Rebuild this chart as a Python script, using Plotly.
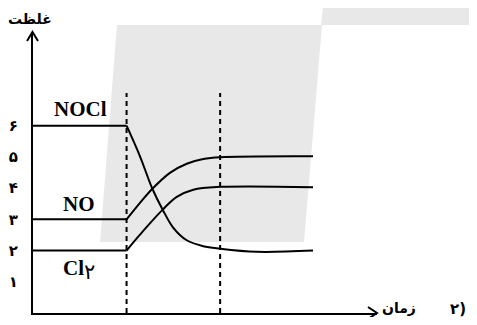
import plotly.graph_objects as go

# concentrations vs time (arbitrary units)
t_start = [0, 2.72]
t_event = [2.72, 5.44]

nocl_t = [2.72, 3.11, 3.47, 3.77, 4.08, 4.47, 4.95, 5.44, 6.5, 8.14]
nocl_c = [6.0, 5.02, 3.98, 3.31, 2.73, 2.33, 2.14, 2.06, 1.96, 2.0]

no_t = [2.72, 3.11, 3.47, 3.98, 4.47, 4.95, 5.44, 8.14]
no_c = [3.0, 3.53, 3.98, 4.49, 4.78, 4.93, 4.99, 5.02]

cl2_t = [2.72, 3.11, 3.77, 4.18, 4.66, 5.44, 8.14]
cl2_c = [2.0, 2.51, 3.31, 3.72, 3.95, 4.04, 4.03]

species = ["<b>NOCl</b>", "<b>NO</b>",
           "<b>Cl</b><sub><span style='font-family:DejaVu Sans;font-size:21px'>۲</span></sub>"]
label_pos = [(1.37, 6.52), (1.34, 3.49), (1.34, 1.38)]

y_ticks = [1, 2, 3, 4, 5, 6]
y_ticktext = ["۱", "۲", "۳", "۴", "۵", "۶"]

y_title = "غلظت"
x_title = "زمان"
option_no = "\u202d۲)\u202c"  # keep digit left of the bracket

# the page body adds an 8px margin, so the figure is drawn 8px in
OFF = 8
W, H = 477 - 2 * OFF, 325 - 2 * OFF
L, T = 33 - OFF, 32 - OFF
R, B = W - (377 - OFF), H - (313 - OFF)


def paper(px, py):
    return (px - OFF - L) / (W - L - R), (H - B - (py - OFF)) / (H - T - B)


def path(points, close=False):
    s = ""
    for i, (px, py) in enumerate(points):
        x, y = paper(px, py)
        s += ("M" if i == 0 else "L") + f"{x:.4f},{y:.4f} "
    return s + ("Z" if close else "")


fig = go.Figure()

series = [(nocl_t, nocl_c), (no_t, no_c), (cl2_t, cl2_c)]
for t, c in series:
    fig.add_trace(go.Scatter(x=t_start, y=[c[0], c[0]], mode="lines",
                             line=dict(color="black", width=2)))
    fig.add_trace(go.Scatter(x=t, y=c, mode="lines",
                             line=dict(color="black", width=2, shape="spline", smoothing=1)))

shapes = [
    # grey scanned-page background
    dict(type="path", xref="paper", yref="paper", layer="below",
         path=path([(117, 25), (322, 25), (304, 242), (100, 242)], True),
         fillcolor="#e8e8e8", line=dict(width=0)),
    dict(type="path", xref="paper", yref="paper", layer="below",
         path=path([(323, 8), (469, 8), (469, 25), (321, 25)], True),
         fillcolor="#e8e8e8", line=dict(width=0)),
    # arrowheads
    dict(type="path", xref="paper", yref="paper",
         path=path([(27, 41), (32.5, 32), (38, 41)]),
         line=dict(color="black", width=2)),
    dict(type="path", xref="paper", yref="paper",
         path=path([(368, 307), (377, 313), (368, 319)]),
         line=dict(color="black", width=2)),
]
for te in t_event:
    shapes.append(dict(type="line", xref="x", yref="y", x0=te, x1=te, y0=0, y1=7.05,
                       line=dict(color="black", width=2, dash="5px,4px")))

annotations = []
for name, (x, y) in zip(species, label_pos):
    annotations.append(dict(x=x, y=y, xref="x", yref="y", text=name,
                            showarrow=False,
                            font=dict(family="Liberation Serif", size=21, color="black")))

for text, (px, py), size in [(y_title, (30, 19), 14),
                             (x_title, (399, 308), 14),
                             (option_no, (458, 309), 15)]:
    x, y = paper(px, py)
    annotations.append(dict(x=x, y=y, xref="paper", yref="paper", text=text,
                            xanchor="center", yanchor="middle", showarrow=False,
                            font=dict(family="DejaVu Sans", size=size,
                                      color="black", weight="bold")))

fig.update_layout(
    width=W, height=H,
    margin=dict(l=L, r=R, t=T, b=B, pad=0, autoexpand=False),
    paper_bgcolor="white",
    plot_bgcolor="rgba(0,0,0,0)",
    showlegend=False,
    shapes=shapes,
    annotations=annotations,
    xaxis=dict(range=[0, 10], showline=True, linecolor="black", linewidth=2,
               showgrid=False, zeroline=False, showticklabels=False, ticks=""),
    yaxis=dict(range=[0, 9], showline=True, linecolor="black", linewidth=2,
               showgrid=False, zeroline=False, ticks="",
               tickvals=y_ticks, ticktext=y_ticktext, ticklabelstandoff=10,
               tickfont=dict(family="DejaVu Sans", size=15, color="black", weight="bold")),
)

fig.write_html("out.html")
